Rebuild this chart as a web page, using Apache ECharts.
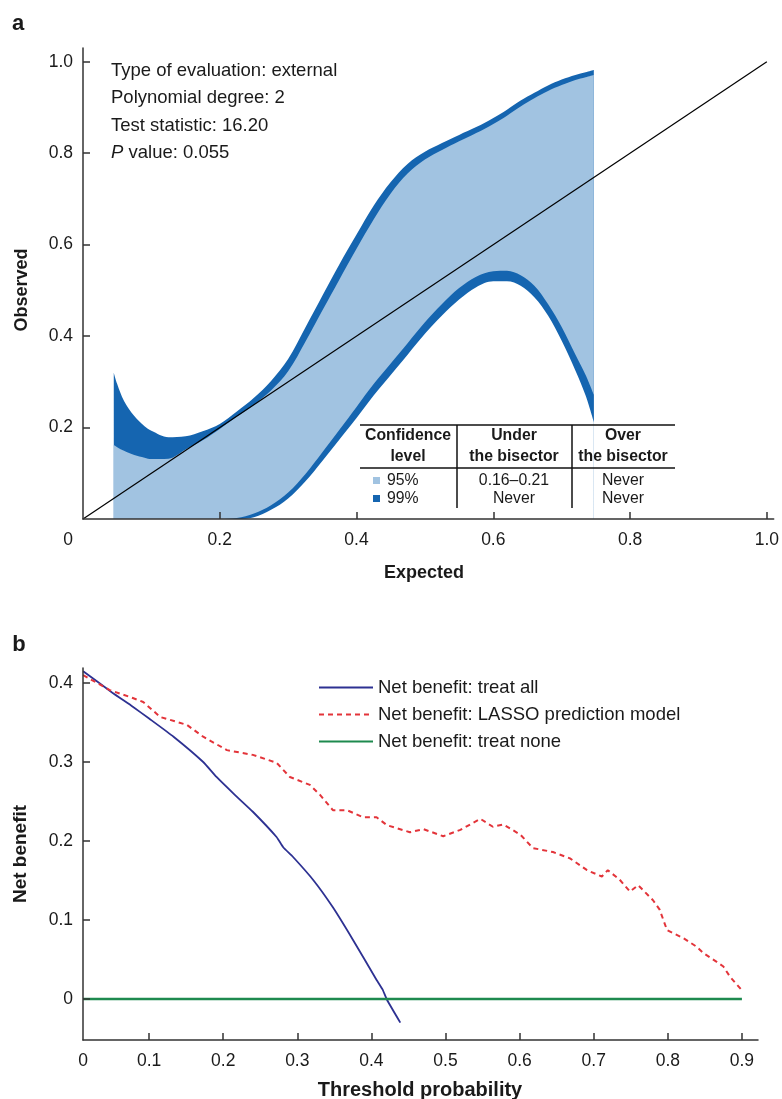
<!DOCTYPE html>
<html>
<head>
<meta charset="utf-8">
<script src="https://cdn.jsdelivr.net/npm/echarts@6/dist/echarts.min.js"></script>
<style>
  html, body { margin: 0; padding: 0; background: #fff; }
  #chart { width: 782px; height: 1099px; }
</style>
</head>
<body>
<div id="chart"></div>
<script>
const FONT = '"Liberation Sans", Arial, Helvetica, sans-serif'
const DARK = '#1565b0'
const LIGHT = '#a1c3e1'
const INK = '#1a1a1a'

// --- panel a: calibration belt ---
const beltX   = [0.045, 0.05, 0.06, 0.075, 0.09, 0.1, 0.125, 0.15, 0.175, 0.2, 0.225, 0.25, 0.275, 0.3, 0.325, 0.35, 0.375, 0.4, 0.425, 0.45, 0.475, 0.5, 0.525, 0.55, 0.575, 0.6, 0.62, 0.64, 0.66, 0.68, 0.7, 0.72, 0.735, 0.747]
const upper99 = [0.32, 0.295, 0.258, 0.225, 0.203, 0.193, 0.179, 0.181, 0.192, 0.208, 0.235, 0.265, 0.302, 0.35, 0.418, 0.488, 0.557, 0.622, 0.685, 0.737, 0.777, 0.803, 0.822, 0.84, 0.857, 0.877, 0.895, 0.915, 0.932, 0.948, 0.961, 0.971, 0.977, 0.982]
const upper95 = [0.162, 0.157, 0.149, 0.14, 0.134, 0.131, 0.132, 0.152, 0.172, 0.197, 0.224, 0.25, 0.281, 0.323, 0.387, 0.456, 0.524, 0.591, 0.655, 0.712, 0.756, 0.786, 0.807, 0.826, 0.844, 0.864, 0.882, 0.902, 0.92, 0.936, 0.949, 0.96, 0.966, 0.971]
const lower95 = [0, 0, 0, 0, 0, 0, 0, 0, 0, 0, 0.002, 0.012, 0.03, 0.058, 0.098, 0.146, 0.195, 0.245, 0.295, 0.34, 0.385, 0.43, 0.47, 0.505, 0.53, 0.542, 0.543, 0.533, 0.51, 0.47, 0.42, 0.36, 0.315, 0.272]
const lower99 = [0, 0, 0, 0, 0, 0, 0, 0, 0, 0, 0, 0.004, 0.02, 0.045, 0.082, 0.127, 0.174, 0.221, 0.27, 0.315, 0.36, 0.405, 0.445, 0.48, 0.507, 0.52, 0.52, 0.51, 0.485, 0.445, 0.39, 0.325, 0.27, 0.212]
const bisectorX = [0, 1]
const bisectorY = [0, 1]
const calTicks = [0.2, 0.4, 0.6, 0.8, 1.0]

const infoLines = ['Type of evaluation: external', 'Polynomial degree: 2', 'Test statistic: 16.20', '{i|P} value: 0.055']
const tableHead = [['Confidence', 'level'], ['Under', 'the bisector'], ['Over', 'the bisector']]
const tableRows = [['95%', '0.16–0.21', 'Never'], ['99%', 'Never', 'Never']]

// --- panel b: decision curve ---
const thrTicks = [0.1, 0.2, 0.3, 0.4, 0.5, 0.6, 0.7, 0.8, 0.9]
const nbTicks = [0, 0.1, 0.2, 0.3, 0.4]
const treatAllX = [0.011, 0.05, 0.078, 0.1, 0.133, 0.173, 0.191, 0.215, 0.24, 0.272, 0.281, 0.294, 0.322, 0.348, 0.375, 0.407, 0.415, 0.421, 0.439]
const treatAllY = [0.415, 0.388, 0.37, 0.355, 0.332, 0.3, 0.281, 0.259, 0.237, 0.205, 0.192, 0.18, 0.15, 0.116, 0.075, 0.024, 0.012, -0.001, -0.03]
const lassoX = [0.011, 0.047, 0.078, 0.092, 0.115, 0.151, 0.173, 0.205, 0.24, 0.272, 0.29, 0.317, 0.331, 0.348, 0.367, 0.389, 0.407, 0.421, 0.452, 0.47, 0.497, 0.52, 0.547, 0.564, 0.578, 0.601, 0.618, 0.645, 0.668, 0.691, 0.711, 0.719, 0.735, 0.749, 0.76, 0.78, 0.789, 0.799, 0.821, 0.839, 0.848, 0.866, 0.875, 0.884, 0.9]
const lassoY = [0.41, 0.391, 0.381, 0.376, 0.357, 0.347, 0.332, 0.315, 0.309, 0.299, 0.281, 0.271, 0.258, 0.239, 0.239, 0.23, 0.23, 0.22, 0.211, 0.215, 0.206, 0.214, 0.228, 0.218, 0.221, 0.208, 0.191, 0.186, 0.178, 0.163, 0.155, 0.163, 0.151, 0.136, 0.144, 0.125, 0.113, 0.087, 0.077, 0.066, 0.058, 0.047, 0.041, 0.028, 0.011]
const noneX = [0.011, 0.9]
const noneY = [0, 0]
const legendNames = ['Net benefit: treat all', 'Net benefit: LASSO prediction model', 'Net benefit: treat none']

const pair = (xs, ys) => xs.map((x, i) => [x, ys[i]])

const axisLine = { onZero: false, lineStyle: { color: '#333', width: 1.5 } }
const ticks = (vals) => ({ inside: true, length: 7, customValues: vals, lineStyle: { color: '#333', width: 1.5 } })
const labelBase = { color: INK, fontSize: 17.5, fontFamily: FONT }

function beltArea(ys, color, z) {
  return {
    type: 'line', xAxisIndex: 0, yAxisIndex: 0, silent: true, z,
    data: pair(beltX, ys), smooth: 0.35, symbol: 'none',
    lineStyle: { width: 0 },
    areaStyle: { color, opacity: 1, origin: 'start' },
  }
}

function text(x, y, str, extra) {
  return { type: 'text', x, y, z: 100, silent: true, style: Object.assign({ text: str, font: '17px ' + FONT, fill: INK, align: 'center', verticalAlign: 'middle' }, extra) }
}
function hline(x1, x2, y) {
  return { type: 'line', z: 100, silent: true, shape: { x1, y1: y, x2, y2: y }, style: { stroke: '#111', lineWidth: 1.5 } }
}
function vline(x, y1, y2) {
  return { type: 'line', z: 100, silent: true, shape: { x1: x, y1, x2: x, y2 }, style: { stroke: '#111', lineWidth: 1.5 } }
}

// graphic bits: annotation, table, titles
const graphics = []
infoLines.forEach((t, i) => {
  graphics.push(text(111, 71 + i * 27.3, t, {
    align: 'left', font: '18.5px ' + FONT,
    rich: { i: { font: 'italic 18.5px ' + FONT, fill: INK } },
  }))
})
const colX = [408, 514, 623]
graphics.push(hline(360, 675, 425), hline(360, 675, 468), vline(457, 425, 508), vline(572, 425, 508))
tableHead.forEach((h, c) => {
  graphics.push(text(colX[c], 436, h[0], { font: 'bold 15.8px ' + FONT }))
  graphics.push(text(colX[c], 457, h[1], { font: 'bold 15.8px ' + FONT }))
})
tableRows.forEach((r, i) => {
  const y = 481 + i * 18
  graphics.push({ type: 'rect', z: 100, silent: true, shape: { x: 373, y: y - 4, width: 7, height: 7 }, style: { fill: i === 0 ? LIGHT : DARK } })
  graphics.push(text(387, y, r[0], { align: 'left', font: '15.8px ' + FONT }))
  graphics.push(text(colX[1], y, r[1], { font: '15.8px ' + FONT }))
  graphics.push(text(colX[2], y, r[2], { font: '15.8px ' + FONT }))
})
graphics.push(text(18, 24, 'a', { font: 'bold 22px ' + FONT }))
graphics.push(text(19, 645, 'b', { font: 'bold 22px ' + FONT }))
graphics.push(text(424, 573, 'Expected', { font: 'bold 18px ' + FONT }))
graphics.push(Object.assign(text(22, 290, 'Observed', { font: 'bold 18px ' + FONT }), { rotation: Math.PI / 2 }))
graphics.push(text(420, 1090, 'Threshold probability', { font: 'bold 20px ' + FONT }))
graphics.push(Object.assign(text(21, 854, 'Net benefit', { font: 'bold 19px ' + FONT }), { rotation: Math.PI / 2 }))

const option = {
  animation: false,
  backgroundColor: '#fff',
  textStyle: { fontFamily: FONT },
  grid: [
    { left: 83, top: 48, width: 692, height: 471 },
    { left: 83, top: 668, width: 675, height: 372 },
  ],
  xAxis: [
    {
      gridIndex: 0, type: 'value', min: 0, max: 1.01, z: 10,
      axisLine, splitLine: { show: false }, axisTick: ticks(calTicks),
      axisLabel: Object.assign({}, labelBase, {
        margin: 12, customValues: [0].concat(calTicks),
        formatter: v => v === 0 ? '{o|0}' : v.toFixed(1),
        rich: { o: Object.assign({}, labelBase, { padding: [0, 30, 0, 0] }) },
      }),
    },
    {
      gridIndex: 1, type: 'value', min: 0.0108, max: 0.9217, z: 10,
      axisLine, splitLine: { show: false }, axisTick: ticks(thrTicks),
      axisLabel: Object.assign({}, labelBase, {
        margin: 12, customValues: [0.0108].concat(thrTicks),
        formatter: v => v < 0.05 ? '0' : v.toFixed(1),
      }),
    },
  ],
  yAxis: [
    {
      gridIndex: 0, type: 'value', min: 0, max: 1.03, z: 10,
      axisLine, splitLine: { show: false }, axisTick: ticks(calTicks),
      axisLabel: Object.assign({}, labelBase, { margin: 10, customValues: calTicks, formatter: v => v.toFixed(1) }),
    },
    {
      gridIndex: 1, type: 'value', min: -0.052, max: 0.419, z: 10,
      axisLine, splitLine: { show: false }, axisTick: ticks(nbTicks),
      axisLabel: Object.assign({}, labelBase, { margin: 10, customValues: nbTicks, formatter: v => v === 0 ? '0' : v.toFixed(1) }),
    },
  ],
  legend: {
    data: legendNames, orient: 'vertical', left: 313, top: 673,
    itemWidth: 54, itemHeight: 14, itemGap: 8,
    itemStyle: { opacity: 0 },
    textStyle: { color: INK, fontSize: 18.5, fontFamily: FONT },
  },
  series: [
    beltArea(upper99, DARK, 2),
    beltArea(upper95, LIGHT, 3),
    beltArea(lower95, DARK, 4),
    beltArea(lower99, '#ffffff', 5),
    {
      type: 'line', xAxisIndex: 0, yAxisIndex: 0, z: 6, silent: true,
      data: pair(bisectorX, bisectorY), symbol: 'none',
      lineStyle: { color: '#000', width: 1.2 },
    },
    {
      name: legendNames[0], type: 'line', xAxisIndex: 1, yAxisIndex: 1,
      data: pair(treatAllX, treatAllY), symbol: 'none', color: '#2d3192', smooth: 0.15,
      lineStyle: { color: '#2d3192', width: 1.8 },
    },
    {
      name: legendNames[1], type: 'line', xAxisIndex: 1, yAxisIndex: 1,
      data: pair(lassoX, lassoY), symbol: 'none', color: '#e3343a',
      lineStyle: { color: '#e3343a', width: 2, type: [5, 4] },
    },
    {
      name: legendNames[2], type: 'line', xAxisIndex: 1, yAxisIndex: 1,
      data: pair(noneX, noneY), symbol: 'none', color: '#1e8a4f',
      lineStyle: { color: '#1e8a4f', width: 2.5 },
    },
  ],
  graphic: graphics,
}

const chart = echarts.init(document.getElementById('chart'), null, { renderer: 'canvas' })
chart.setOption(option)
</script>
</body>
</html>
